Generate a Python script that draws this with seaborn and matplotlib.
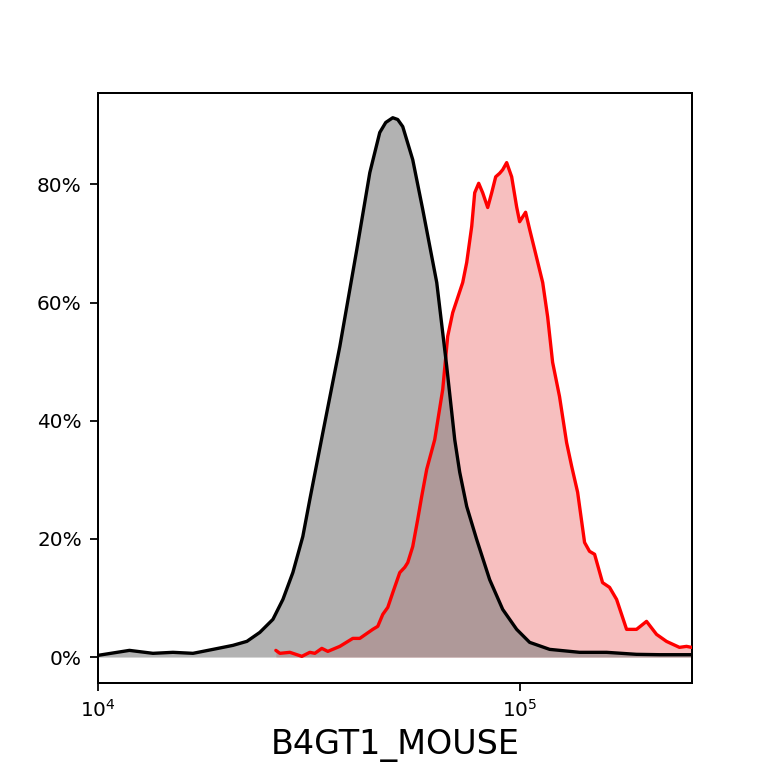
import matplotlib
matplotlib.use("Agg")
import matplotlib.pyplot as plt
import seaborn as sns
from matplotlib.ticker import PercentFormatter, NullLocator

# control (black / gray) histogram
ctrl_x = [1.003e4, 1.19e4, 1.353e4, 1.509e4, 1.683e4, 1.877e4, 2.093e4, 2.259e4,
          2.424e4, 2.603e4, 2.749e4, 2.902e4, 3.064e4, 3.184e4, 3.418e4, 3.750e4,
          4.114e4, 4.416e4, 4.662e4, 4.817e4, 5.005e4, 5.142e4, 5.285e4, 5.581e4,
          5.893e4, 6.362e4, 6.718e4, 7.018e4, 7.211e4, 7.492e4, 7.911e4, 8.492e4,
          9.117e4, 9.838e4, 1.056e5, 1.178e5, 1.387e5, 1.607e5, 1.892e5, 2.145e5,
          2.554e5]
ctrl_y = [0.29, 1.13, 0.63, 0.80, 0.63, 1.30, 1.98, 2.66,
          4.18, 6.38, 9.76, 14.3, 20.4, 26.7, 38.0, 52.6,
          69.0, 82.0, 88.8, 90.5, 91.3, 91.0, 89.8, 84.2,
          75.8, 63.4, 49.2, 36.8, 31.3, 25.5, 19.9, 13.1,
          8.07, 4.69, 2.49, 1.30, 0.80, 0.80, 0.46, 0.40,
          0.40]

# stained sample (red) histogram
samp_x = [2.645e4, 2.704e4, 2.855e4, 3.048e4, 3.184e4, 3.272e4, 3.399e4, 3.512e4,
          3.750e4, 4.025e4, 4.181e4, 4.488e4, 4.612e4, 4.740e4, 4.871e4, 5.005e4,
          5.200e4, 5.344e4, 5.432e4, 5.581e4, 5.735e4, 5.861e4, 6.024e4, 6.292e4,
          6.573e4, 6.754e4, 6.941e4, 7.330e4, 7.492e4, 7.699e4, 7.826e4, 7.998e4,
          8.174e4, 8.401e4, 8.586e4, 8.775e4, 8.968e4, 9.117e4, 9.317e4, 9.574e4,
          9.838e4, 1.000e5, 1.033e5, 1.056e5, 1.085e5, 1.134e5, 1.165e5, 1.197e5,
          1.243e5, 1.292e5, 1.328e5, 1.372e5, 1.425e5, 1.464e5, 1.505e5, 1.572e5,
          1.633e5, 1.697e5, 1.792e5, 1.892e5, 1.998e5, 2.110e5, 2.228e5, 2.391e5,
          2.485e5, 2.554e5]
samp_y = [1.13, 0.63, 0.80, 0.12, 0.80, 0.63, 1.47, 0.96,
          1.81, 3.16, 3.16, 4.69, 5.20, 7.23, 8.41, 10.9,
          14.3, 15.2, 16.0, 18.7, 23.3, 27.2, 31.8, 36.8,
          45.3, 54.3, 58.3, 63.4, 66.8, 72.9, 78.6, 80.2,
          78.6, 76.1, 78.6, 81.3, 81.9, 82.5, 83.7, 81.3,
          76.2, 73.7, 75.3, 72.4, 69.0, 63.4, 57.6, 49.9,
          44.1, 36.3, 32.3, 27.9, 19.4, 17.9, 17.4, 12.6,
          11.8, 9.76, 4.69, 4.69, 6.04, 3.84, 2.65, 1.64,
          1.81, 1.64]

x_label = "B4GT1_MOUSE"

sns.set_style("ticks")
plt.rcParams["text.color"] = "black"
plt.rcParams["axes.labelcolor"] = "black"
plt.rcParams["xtick.color"] = "black"
plt.rcParams["ytick.color"] = "black"
plt.rcParams["axes.edgecolor"] = "black"

fig, ax = plt.subplots(figsize=(4.8, 4.8), dpi=160)

ctrl_f = [v / 100 for v in ctrl_y]
samp_f = [v / 100 for v in samp_y]

ax.fill_between(samp_x, 0, samp_f, color="lightcoral", alpha=0.5, linewidth=0, zorder=1)
ax.fill_between(ctrl_x, 0, ctrl_f, color="gray", alpha=0.6, linewidth=0, zorder=2)
sns.lineplot(x=samp_x, y=samp_f, color="red", linewidth=1.5, sort=False, ax=ax, zorder=3)
sns.lineplot(x=ctrl_x, y=ctrl_f, color="black", linewidth=1.5, sort=False, ax=ax, zorder=4)
for ln in ax.lines:
    ln.set_solid_joinstyle("round")

ax.set_xscale("log")
ax.set_xlim(1e4, 2.56e5)
ax.set_ylim(-0.0435, 0.955)
ax.xaxis.set_minor_locator(NullLocator())
ax.set_yticks([0, 0.2, 0.4, 0.6, 0.8])
ax.yaxis.set_major_formatter(PercentFormatter(xmax=1, decimals=0))
ax.tick_params(labelsize=9, length=3.6, width=0.8)
for s in ax.spines.values():
    s.set_linewidth(0.9)
ax.set_xlabel(x_label, fontsize=15)
ax.set_ylabel("")

fig.subplots_adjust(left=0.127, right=0.901, top=0.879, bottom=0.111)
fig.savefig("out.png", dpi=160)
